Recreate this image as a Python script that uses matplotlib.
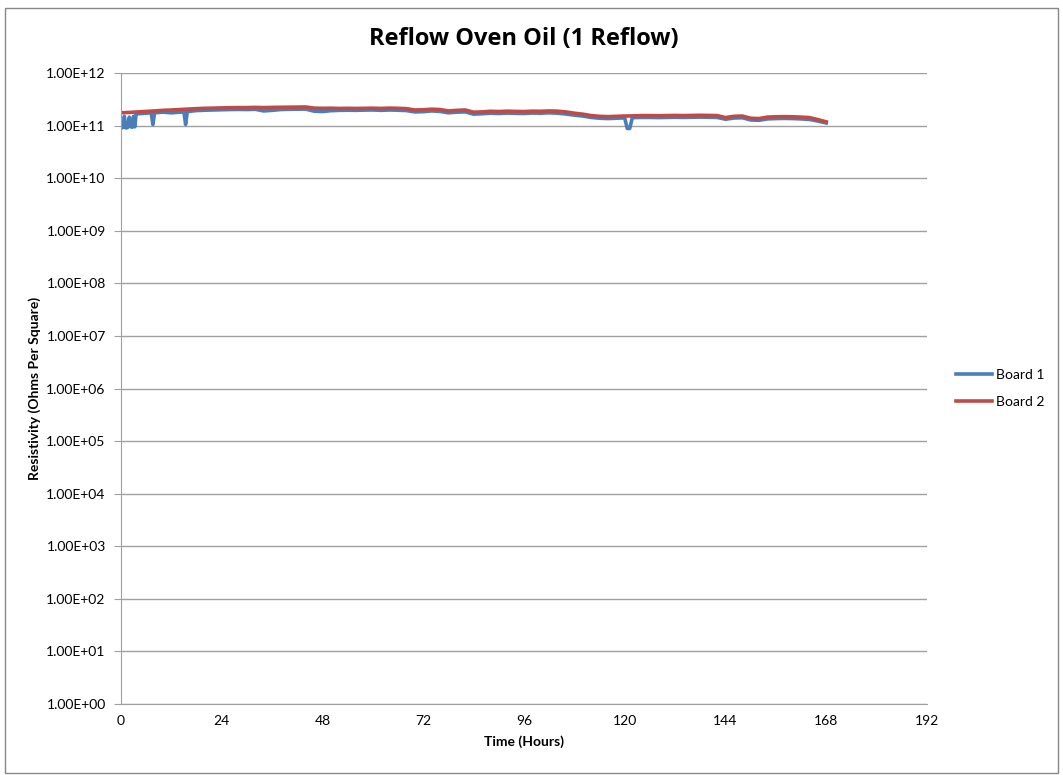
import matplotlib.pyplot as plt
from matplotlib.patches import Rectangle
from matplotlib.ticker import FuncFormatter

plt.rcParams['font.family'] = ['Lato', 'DejaVu Sans']

# Board 2 (hours, resistivity)
t2 = [0, 2, 4, 6, 8, 10, 12, 14, 16, 18, 20, 22, 24, 26, 28, 30, 32, 34, 36, 38,
      40, 42, 44, 46, 48, 50, 52, 54, 56, 58, 60, 62, 64, 66, 68, 70, 72, 74, 76, 78,
      80, 82, 84, 86, 88, 90, 92, 94, 96, 98, 100, 102, 104, 106, 108, 110, 112, 114,
      116, 118, 120, 122, 124, 126, 128, 130, 132, 134, 136, 138, 140, 142, 144, 146,
      148, 150, 152, 154, 156, 158, 160, 162, 164, 166, 168]
r2 = [1.75, 1.78, 1.82, 1.86, 1.90, 1.95, 1.98, 2.02, 2.06, 2.10, 2.13, 2.15, 2.17, 2.19,
      2.20, 2.20, 2.22, 2.20, 2.22, 2.23, 2.24, 2.25, 2.26, 2.15, 2.13, 2.14, 2.12, 2.13,
      2.12, 2.13, 2.14, 2.12, 2.15, 2.13, 2.10, 1.98, 2.00, 2.05, 2.02, 1.90, 1.95, 1.98,
      1.80, 1.82, 1.87, 1.85, 1.88, 1.86, 1.85, 1.88, 1.87, 1.90, 1.88, 1.82, 1.72, 1.65,
      1.55, 1.50, 1.48, 1.50, 1.52, 1.53, 1.55, 1.55, 1.54, 1.55, 1.56, 1.55, 1.56, 1.57,
      1.56, 1.55, 1.42, 1.50, 1.52, 1.38, 1.36, 1.45, 1.47, 1.48, 1.47, 1.45, 1.42, 1.30,
      1.18]

# Board 1 (hours, resistivity)
t1 = [0, 0.5, 0.8, 1.2, 1.6, 2.0, 2.3, 2.7, 3.0, 3.3, 3.6, 4, 6, 7.2, 7.6, 8.0, 10, 12,
      14, 15.0, 15.4, 15.8, 18, 20, 22, 24, 26, 28, 30, 32, 34, 36, 38, 40, 42, 44, 46,
      48, 50, 52, 54, 56, 58, 60, 62, 64, 66, 68, 70, 72, 74, 76, 78, 80, 82, 84, 86,
      88, 90, 92, 94, 96, 98, 100, 102, 104, 106, 108, 110, 112, 114, 116, 118, 120,
      120.6, 121.2, 121.8, 122.4, 124, 126, 128, 130, 132, 134, 136, 138, 140, 142,
      144, 146, 148, 150, 152, 154, 156, 158, 160, 162, 164, 166, 168]
r1 = [0.90, 0.92, 1.50, 0.90, 0.92, 1.45, 0.95, 0.93, 1.50, 0.95, 1.65, 1.68, 1.72,
      1.75, 1.05, 1.75, 1.80, 1.75, 1.80, 1.82, 1.05, 1.85, 1.93, 1.96, 1.98, 2.00,
      2.02, 2.03, 2.02, 2.04, 1.90, 1.95, 2.02, 2.04, 2.05, 2.06, 1.88, 1.85, 1.92,
      1.95, 1.96, 1.95, 1.97, 1.98, 1.95, 1.98, 1.96, 1.93, 1.82, 1.84, 1.90, 1.86,
      1.75, 1.80, 1.82, 1.65, 1.68, 1.72, 1.70, 1.73, 1.71, 1.70, 1.73, 1.72, 1.75,
      1.72, 1.66, 1.58, 1.52, 1.43, 1.38, 1.36, 1.38, 1.40, 0.88, 0.88, 1.40, 1.42,
      1.43, 1.43, 1.42, 1.43, 1.44, 1.43, 1.44, 1.45, 1.44, 1.43, 1.32, 1.39, 1.41,
      1.28, 1.26, 1.34, 1.36, 1.37, 1.36, 1.34, 1.31, 1.22, 1.12]

x_ticks = [0, 24, 48, 72, 96, 120, 144, 168, 192]
y_ticks = [10.0 ** k for k in range(0, 13)]

fig = plt.figure(figsize=(10.63, 7.75), dpi=100)
ax = fig.add_axes([0.1138, 0.0916, 0.7582, 0.8142])

ax.plot(t1, [v * 1e11 for v in r1], color='#4a7ebb', lw=2.6, label='Board 1')
ax.plot(t2, [v * 1e11 for v in r2], color='#be4b48', lw=2.6, label='Board 2')

ax.set_yscale('log')
ax.set_ylim(1, 1e12)
ax.set_xlim(0, 192)
ax.set_xticks(x_ticks)
ax.set_yticks(y_ticks)
ax.minorticks_off()
ax.yaxis.set_major_formatter(FuncFormatter(lambda v, p: f"{v:.2E}"))
ax.grid(axis='y', color='#a0a0a0', lw=1)
ax.set_axisbelow(True)
for s in ['top', 'right']:
    ax.spines[s].set_visible(False)
for s in ['left', 'bottom']:
    ax.spines[s].set_color('#a0a0a0')
ax.tick_params(axis='y', length=5, color='#a0a0a0', labelsize=10, pad=6)
ax.tick_params(axis='x', length=0, labelsize=10, pad=8)

ax.set_title('Reflow Oven Oil (1 Reflow)', fontsize=17, fontweight='bold', pad=20,
             family=['Open Sans', 'DejaVu Sans'])
ax.set_xlabel('Time (Hours)', fontsize=10, fontweight='bold', labelpad=6)
ax.set_ylabel('Resistivity (Ohms Per Square)', fontsize=10, fontweight='bold', labelpad=4)

ax.legend(loc='center left', bbox_to_anchor=(1.02, 0.5), frameon=False,
          fontsize=10, handlelength=2.6, labelspacing=1.1, handletextpad=0.3)

fig.patches.append(Rectangle((0.005, 0.003), 0.99, 0.987, transform=fig.transFigure,
                             fill=False, edgecolor='#888888', lw=1))

fig.savefig('out.png', dpi=100)
